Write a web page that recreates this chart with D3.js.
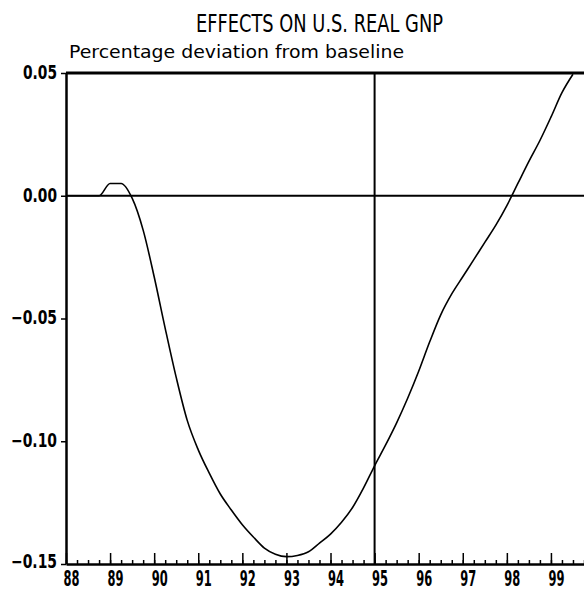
<!DOCTYPE html>
<html>
<head>
<meta charset="utf-8">
<script src="https://cdn.jsdelivr.net/npm/d3@7.9.0/dist/d3.min.js"></script>
<style>
  body { margin: 0; background: #fff; }
  text { font-family: "DejaVu Sans", sans-serif; fill: #000; }
</style>
</head>
<body>
<svg id="chart" width="584" height="596"></svg>
<script>
// quarterly dates (year fraction, 19xx) and GNP deviation (%)
const quarters = [88.00, 88.25, 88.50, 88.75, 89.00, 89.25, 89.50, 89.75,
  90.00, 90.25, 90.50, 90.75, 91.00, 91.25, 91.50, 91.75,
  92.00, 92.25, 92.50, 92.75, 93.00, 93.25, 93.50, 93.75,
  94.00, 94.25, 94.50, 94.75, 95.00, 95.25, 95.50, 95.75,
  96.00, 96.25, 96.50, 96.75, 97.00, 97.25, 97.50, 97.75,
  98.00, 98.25, 98.50, 98.75, 99.00, 99.25, 99.50];
const gnpDev = [0, 0, 0, 0, 0.005, 0.005, -0.001, -0.014,
  -0.033, -0.054, -0.074, -0.0915, -0.1035, -0.113, -0.1215, -0.128,
  -0.134, -0.139, -0.1435, -0.146, -0.147, -0.1465, -0.145, -0.1415,
  -0.1378, -0.133, -0.127, -0.119, -0.110, -0.1015, -0.0925, -0.0825,
  -0.0715, -0.0595, -0.0485, -0.040, -0.033, -0.026, -0.019, -0.012,
  -0.004, 0.005, 0.014, 0.0225, 0.032, 0.042, 0.0495];

const yearTicks = [88, 89, 90, 91, 92, 93, 94, 95, 96, 97, 98, 99];
const yTicks = [0.05, 0.00, -0.05, -0.10, -0.15];
const markerYear = 95;

const title = "EFFECTS ON U.S. REAL GNP";
const subtitle = "Percentage deviation from baseline";

const svg = d3.select("#chart");

const x = d3.scaleLinear().domain([88, 99.75]).range([66, 584]);
const y = d3.scaleLinear().domain([-0.15, 0.05]).range([564, 73]);

// titles
svg.append("text")
  .attr("x", 196).attr("y", 32)
  .attr("font-size", 24)
  .attr("textLength", 247).attr("lengthAdjust", "spacingAndGlyphs")
  .text(title);
svg.append("text")
  .attr("x", 69).attr("y", 58)
  .attr("font-size", 18)
  .attr("textLength", 335).attr("lengthAdjust", "spacingAndGlyphs")
  .text(subtitle);

// quarter ticks
const quarterTicks = d3.range(88, 99.76, 0.25);
svg.append("g")
  .attr("transform", `translate(0,${y(-0.15)})`)
  .call(d3.axisBottom(x).tickValues(quarterTicks).tickSize(-4).tickSizeOuter(0).tickFormat(""))
  .call(g => g.select(".domain").remove())
  .call(g => g.selectAll("line").attr("stroke-width", 1.5));

// year ticks + labels
const xAxis = svg.append("g")
  .attr("transform", `translate(0,${y(-0.15)})`)
  .call(d3.axisBottom(x).tickValues(yearTicks).tickSize(-11).tickSizeOuter(0).tickPadding(7).tickFormat(d => d));
xAxis.select(".domain").attr("stroke-width", 2.5);
xAxis.selectAll("line").attr("stroke-width", 1.5);
xAxis.selectAll("text")
  .attr("font-size", 21)
  .attr("font-weight", "bold")
  .attr("dx", 5)
  .attr("textLength", 16).attr("lengthAdjust", "spacingAndGlyphs");

// left axis
const yAxis = svg.append("g")
  .attr("transform", `translate(${x(88)},0)`)
  .call(d3.axisLeft(y).tickValues(yTicks).tickSize(5).tickSizeOuter(0).tickPadding(4).tickFormat(d3.format(".2f")));
yAxis.select(".domain").attr("stroke-width", 2.5);
yAxis.selectAll("line").attr("stroke-width", 1.5);
yAxis.selectAll("text")
  .attr("font-size", 19)
  .attr("font-weight", "bold")
  .attr("dy", d => d === -0.15 ? "0.2em" : "0.28em")
  .attr("textLength", d => d < 0 ? 46 : 34).attr("lengthAdjust", "spacingAndGlyphs");

// frame top, zero line, 1995 marker
svg.append("line")
  .attr("x1", x(88)).attr("x2", x(99.75))
  .attr("y1", y(0.05)).attr("y2", y(0.05))
  .attr("stroke", "#000").attr("stroke-width", 3);
svg.append("line")
  .attr("x1", x(88)).attr("x2", x(99.75))
  .attr("y1", y(0)).attr("y2", y(0))
  .attr("stroke", "#000").attr("stroke-width", 2);
svg.append("line")
  .attr("x1", x(markerYear)).attr("x2", x(markerYear))
  .attr("y1", y(0.05)).attr("y2", y(-0.15))
  .attr("stroke", "#000").attr("stroke-width", 2);

// curve
const line = d3.line()
  .x((d, i) => x(quarters[i]))
  .y(d => y(d))
  .curve(d3.curveMonotoneX);
svg.append("path")
  .datum(gnpDev)
  .attr("fill", "none")
  .attr("stroke", "#000")
  .attr("stroke-width", 1.6)
  .attr("d", line);
</script>
</body>
</html>
